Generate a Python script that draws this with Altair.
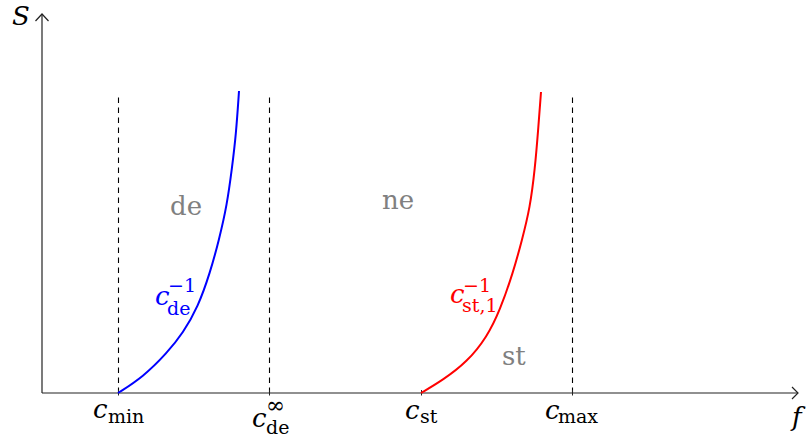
import altair as alt
import pandas as pd

# coordinate frame: origin at the axes' corner
blue_x = [76, 101, 125, 141, 156, 168, 177, 185, 190, 194, 197]
blue_y = [0, 16, 40, 60, 86, 120, 153, 188, 225, 258, 302]
red_x = [379, 401, 425, 445, 458, 471, 480, 488, 493, 496, 499]
red_y = [0, 13, 31, 56, 83, 120, 153, 185, 225, 261, 301]

dash_x = [76, 227, 530]
dash_top = 298
tick_x = [76, 227, 379, 530]
x_axis_end = 756
y_axis_end = 379

# italic text pieces
it_text = ["S", "f", "c", "c", "c", "c", "c", "c"]
it_x = [-30, 750, 51, 210, 363, 503, 113, 408]
it_y = [368, -33, -25, -34, -26, -26, 88, 90]
it_col = ["black", "black", "black", "black", "black", "black", "#0000ff", "#ff0000"]

# roman text pieces
rm_text = ["min", "∞", "de", "st", "max", "−1", "de", "−1", "st,1", "de", "ne", "st"]
rm_x = [66, 224, 224, 378, 516, 126, 125, 421, 420, 128, 340, 460]
rm_y = [-30, -20, -41, -30, -30, 101, 78, 101, 81, 178, 184, 28]
rm_size = [19, 23, 19, 19, 19, 19, 19, 19, 19, 26, 26, 26]
rm_col = ["black", "black", "black", "black", "black", "#0000ff", "#0000ff",
          "#ff0000", "#ff0000", "#808080", "#808080", "#808080"]

FONT = "DejaVu Serif"

XS = alt.Scale(domain=[-42, 764], nice=False, zero=False)
YS = alt.Scale(domain=[-48, 393], nice=False, zero=False)

def X(f="x"):
    return alt.X(f"{f}:Q", scale=XS, axis=None)

def Y(f="y"):
    return alt.Y(f"{f}:Q", scale=YS, axis=None)

curves = pd.DataFrame(
    {"x": blue_x + red_x, "y": blue_y + red_y,
     "s": ["blue"] * len(blue_x) + ["red"] * len(red_x),
     "o": list(range(len(blue_x))) + list(range(len(red_x)))}
)
curve_layer = alt.Chart(curves).mark_line(strokeWidth=2, interpolate="basis").encode(
    x=X(), y=Y(), detail="s:N", order="o:Q",
    color=alt.Color("s:N", scale=alt.Scale(domain=["blue", "red"], range=["#0000ff", "#ff0000"]), legend=None),
)

dashes = pd.DataFrame({"x": dash_x, "y": [0] * 3, "y2": [dash_top] * 3})
dash_layer = alt.Chart(dashes).mark_rule(
    strokeDash=[5.5, 4.5], strokeWidth=1.1, color="black", xOffset=0.5
).encode(x=X(), y=Y(), y2="y2:Q")

ticks = pd.DataFrame({"x": tick_x, "y": [-2.5] * 4, "y2": [3] * 4})
tick_layer = alt.Chart(ticks).mark_rule(strokeWidth=1, color="#222222", xOffset=0.5).encode(
    x=X(), y=Y(), y2="y2:Q"
)

axes = pd.DataFrame({"x": [0, 0], "y": [0, 0], "x2": [x_axis_end, 0], "y2": [0, y_axis_end]})
axis_layer = alt.Chart(axes).mark_rule(strokeWidth=1.2, color="#222222").encode(
    x=X(), y=Y(), x2="x2:Q", y2="y2:Q"
)

heads = pd.DataFrame({
    "x": [x_axis_end - 6, x_axis_end, x_axis_end - 6, -6.5, 0, 6.5],
    "y": [6, 0, -6, y_axis_end - 7, y_axis_end, y_axis_end - 7],
    "g": ["a", "a", "a", "b", "b", "b"],
    "o": [0, 1, 2, 0, 1, 2],
})
head_layer = alt.Chart(heads).mark_line(strokeWidth=1.2, color="#222222").encode(
    x=X(), y=Y(), detail="g:N", order="o:Q"
)

it_df = pd.DataFrame({"x": it_x, "y": it_y, "t": it_text, "c": it_col})
it_layer = alt.Chart(it_df).mark_text(
    font=FONT, fontStyle="italic", fontSize=26, align="left", baseline="alphabetic"
).encode(x=X(), y=Y(), text="t:N", color=alt.Color("c:N", scale=None))

rm_df = pd.DataFrame({"x": rm_x, "y": rm_y, "t": rm_text, "c": rm_col, "s": rm_size})
rm_layer = alt.Chart(rm_df).mark_text(
    font=FONT, align="left", baseline="alphabetic"
).encode(x=X(), y=Y(), text="t:N", color=alt.Color("c:N", scale=None),
         size=alt.Size("s:Q", scale=None))

chart = alt.layer(
    dash_layer, tick_layer, axis_layer, head_layer, curve_layer, it_layer, rm_layer
).properties(width=806, height=441, padding=0, autosize="none").configure_view(stroke=None)

chart.save("out.html", embed_options={"renderer": "svg", "actions": False})
